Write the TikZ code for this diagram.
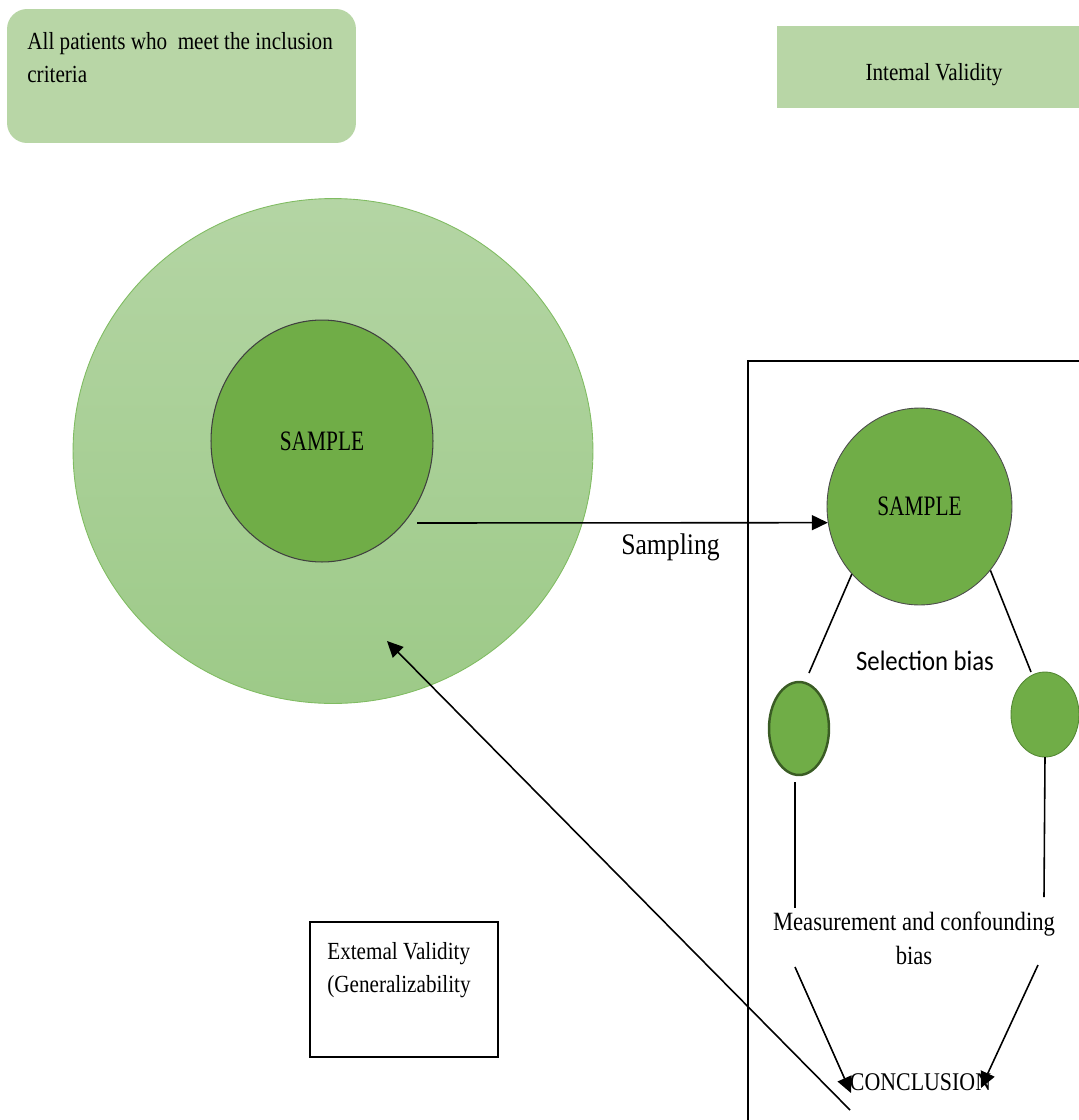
\documentclass[tikz,border=0pt]{standalone}
\usepackage{fontspec}
\setmainfont{Liberation Serif}
\newfontfamily\condserif[FakeStretch=0.86]{Liberation Serif}
\newfontfamily\narrowserif[FakeStretch=0.76]{Liberation Serif}
\newfontfamily\calib[FakeStretch=0.88]{Carlito}
\usetikzlibrary{shapes.geometric,arrows.meta}

\definecolor{paleGreen}{RGB}{184,214,166}
\definecolor{ringTop}{RGB}{180,213,164}
\definecolor{ringBottom}{RGB}{157,202,136}
\definecolor{ringEdge}{RGB}{128,188,98}
\definecolor{leafGreen}{RGB}{112,173,71}
\definecolor{deepGreen}{RGB}{58,92,36}
\definecolor{softGreen}{RGB}{84,136,52}

\begin{document}
\begin{tikzpicture}[x=0.02cm,y=-0.02cm,
  lbl/.style={font=\condserif\fontsize{14pt}{19pt}\selectfont, inner sep=0pt},
  link/.style={draw=black, line width=0.9pt},
  arr/.style={link,-{Triangle[length=0.32cm,width=0.3cm]}},
  blob/.style={ellipse, inner sep=0pt, fill=leafGreen},
  greenbox/.style={rectangle, fill=paleGreen, inner sep=0pt},
]
\useasboundingbox (0,0) rectangle (1079,1120);

% population box with its caption
\node[greenbox, rounded corners=0.4cm, minimum width=6.98cm, minimum height=2.68cm]
  (pop) at (181.5,76) {};
\node[lbl, anchor=north west, align=left] (popText) at (27,32)
  {All patients who\ \ meet the inclusion\\criteria};

% internal validity banner
\node[greenbox, minimum width=6.16cm, minimum height=1.64cm] (intBox) at (931,67) {};
\node[lbl, anchor=base] (intText) at (934,80) {Intemal Validity};

% population ring and the sample within it
\node[ellipse, inner sep=0pt, minimum width=10.4cm, minimum height=10.1cm,
  top color=ringTop, bottom color=ringBottom, draw=ringEdge, line width=0.5pt]
  (ring) at (333,451) {};
\node[blob, draw=black!75, line width=0.6pt, minimum width=4.44cm, minimum height=4.84cm,
  font=\narrowserif\fontsize{16pt}{19pt}\selectfont] (smpL) at (322,441) {SAMPLE};

% study frame
\draw[line width=0.9pt] (1090,361) -- (748,361) -- (748,1130);

% sample drawn into the study
\node[blob, draw=black!70, line width=0.5pt, minimum width=3.7cm, minimum height=3.94cm,
  font=\narrowserif\fontsize{16pt}{19pt}\selectfont] (smpR) at (919.5,506.5) {SAMPLE};

\coordinate (sampStart) at (417,523);
\draw[arr] (sampStart) -- (smpR.190);
\node[lbl, anchor=base, font=\condserif\fontsize{17pt}{19pt}\selectfont] (sampLbl) at (670.5,554) {Sampling};

% selection into groups
\node[blob, draw=deepGreen, line width=1.4pt, minimum width=1.2cm, minimum height=1.86cm] (grpA) at (799,728.5) {};
\node[blob, draw=softGreen, line width=0.5pt, minimum width=1.36cm, minimum height=1.7cm] (grpB) at (1045,714.5) {};
\coordinate (grpATop) at (809,673);
\coordinate (grpBTop) at (1031,672);
\draw[link] (smpR.225) -- (grpATop);
\draw[link] (smpR.-42) -- (grpBTop);
\node[inner sep=0pt, anchor=base, font=\calib\fontsize{16pt}{19pt}\selectfont] (selLbl) at (925,670) {Selection bias};

% measurement stage
\coordinate (grpALow) at (795,782);
\coordinate (measL) at (795,908);
\coordinate (grpBLow) at (1045,757);
\coordinate (measR) at (1044,897);
\draw[link] (grpALow) -- (measL);
\draw[link] (grpBLow) -- (measR);
\node[lbl, anchor=north, align=center, font=\condserif\fontsize{15pt}{19pt}\selectfont]
  (measLbl) at (914,912) {Measurement and confounding\\bias};

% conclusion
\node[lbl, anchor=base, font=\condserif\fontsize{14.5pt}{19pt}\selectfont] (concl) at (920.5,1090) {CONCLUSION};
\coordinate (measOutL) at (795,967);
\coordinate (measOutR) at (1038,965);
\coordinate (conclInL) at (851,1093);
\coordinate (conclInR) at (981,1088);
\draw[arr] (measOutL) -- (conclInL);
\draw[arr] (measOutR) -- (conclInR);

% generalising back to the population
\coordinate (extTail) at (850,1110);
\coordinate (ringMark) at (387,641);
\draw[arr] (extTail) -- (ringMark);

% external validity box
\node[rectangle, draw=black, fill=white, line width=0.9pt, inner sep=0pt,
  minimum width=3.76cm, minimum height=2.7cm] (extBox) at (404,989.5) {};
\node[lbl, anchor=north west, align=left] (extText) at (327,942)
  {Extemal Validity\\(Generalizability};
\end{tikzpicture}
\end{document}
